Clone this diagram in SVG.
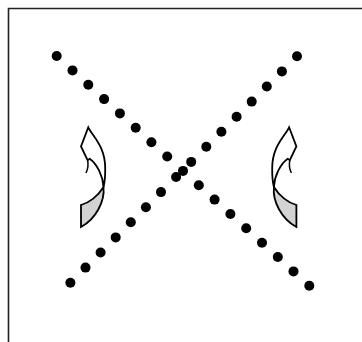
<svg xmlns="http://www.w3.org/2000/svg" width="362" height="342" viewBox="0 0 362 342">
<style>
.dot{fill:#000}
.frame{fill:none;stroke:#222;stroke-width:1.6}
.face{fill:#fff;stroke:#000;stroke-width:1.8;stroke-linejoin:miter}
.back{fill:#d3d3d3;stroke:#000;stroke-width:1.8;stroke-linejoin:miter}
.ln{fill:none;stroke:#000;stroke-width:1.5}
</style>
<defs>
<g id="curved-arrow">
<path class="back" d="M81,205 C89,203 98,196 103.5,187 C105,201 96,219 81,227 Z"/>
<path class="face" d="M88.3,127.3 C93,137 105,146 105.2,168 C105.3,176 104.8,182 103.5,187 C103,176 97,164 89.7,158.8 L87.6,160.2 L81,146.5 Z"/>
<path class="ln" d="M87.6,160.2 Q89,167 86,173"/>
</g>
</defs>
<rect width="362" height="342" fill="#fff"/>
<path class="frame" d="M8.5,342 V8.5 H362"/>
<g id="left-arrow"><use href="#curved-arrow"/></g>
<g id="right-arrow"><use href="#curved-arrow" transform="translate(377.4,0) scale(-1,1)"/></g>
<g id="dots-descending">
<circle class="dot" cx="56.7" cy="56.0" r="5"/>
<circle class="dot" cx="72.5" cy="70.4" r="5"/>
<circle class="dot" cx="88.3" cy="84.7" r="5"/>
<circle class="dot" cx="104.1" cy="99.1" r="5"/>
<circle class="dot" cx="119.9" cy="113.4" r="5"/>
<circle class="dot" cx="135.7" cy="127.8" r="5"/>
<circle class="dot" cx="151.4" cy="142.2" r="5"/>
<circle class="dot" cx="167.2" cy="156.5" r="5"/>
<circle class="dot" cx="183.0" cy="170.9" r="5"/>
<circle class="dot" cx="198.8" cy="185.2" r="5"/>
<circle class="dot" cx="214.6" cy="199.6" r="5"/>
<circle class="dot" cx="230.4" cy="214.0" r="5"/>
<circle class="dot" cx="246.2" cy="228.3" r="5"/>
<circle class="dot" cx="262.0" cy="242.7" r="5"/>
<circle class="dot" cx="277.8" cy="257.0" r="5"/>
<circle class="dot" cx="293.5" cy="271.4" r="5"/>
<circle class="dot" cx="309.3" cy="285.8" r="5"/>
</g>
<g id="dots-ascending">
<circle class="dot" cx="297.0" cy="56.3" r="5"/>
<circle class="dot" cx="281.9" cy="71.4" r="5"/>
<circle class="dot" cx="266.8" cy="86.5" r="5"/>
<circle class="dot" cx="251.7" cy="101.6" r="5"/>
<circle class="dot" cx="236.6" cy="116.7" r="5"/>
<circle class="dot" cx="221.4" cy="131.8" r="5"/>
<circle class="dot" cx="206.3" cy="146.8" r="5"/>
<circle class="dot" cx="191.2" cy="161.9" r="5"/>
<circle class="dot" cx="176.1" cy="177.0" r="5"/>
<circle class="dot" cx="161.0" cy="192.1" r="5"/>
<circle class="dot" cx="145.9" cy="207.2" r="5"/>
<circle class="dot" cx="130.8" cy="222.3" r="5"/>
<circle class="dot" cx="115.7" cy="237.4" r="5"/>
<circle class="dot" cx="100.6" cy="252.5" r="5"/>
<circle class="dot" cx="85.5" cy="267.6" r="5"/>
<circle class="dot" cx="70.4" cy="282.7" r="5"/>
</g>
</svg>
